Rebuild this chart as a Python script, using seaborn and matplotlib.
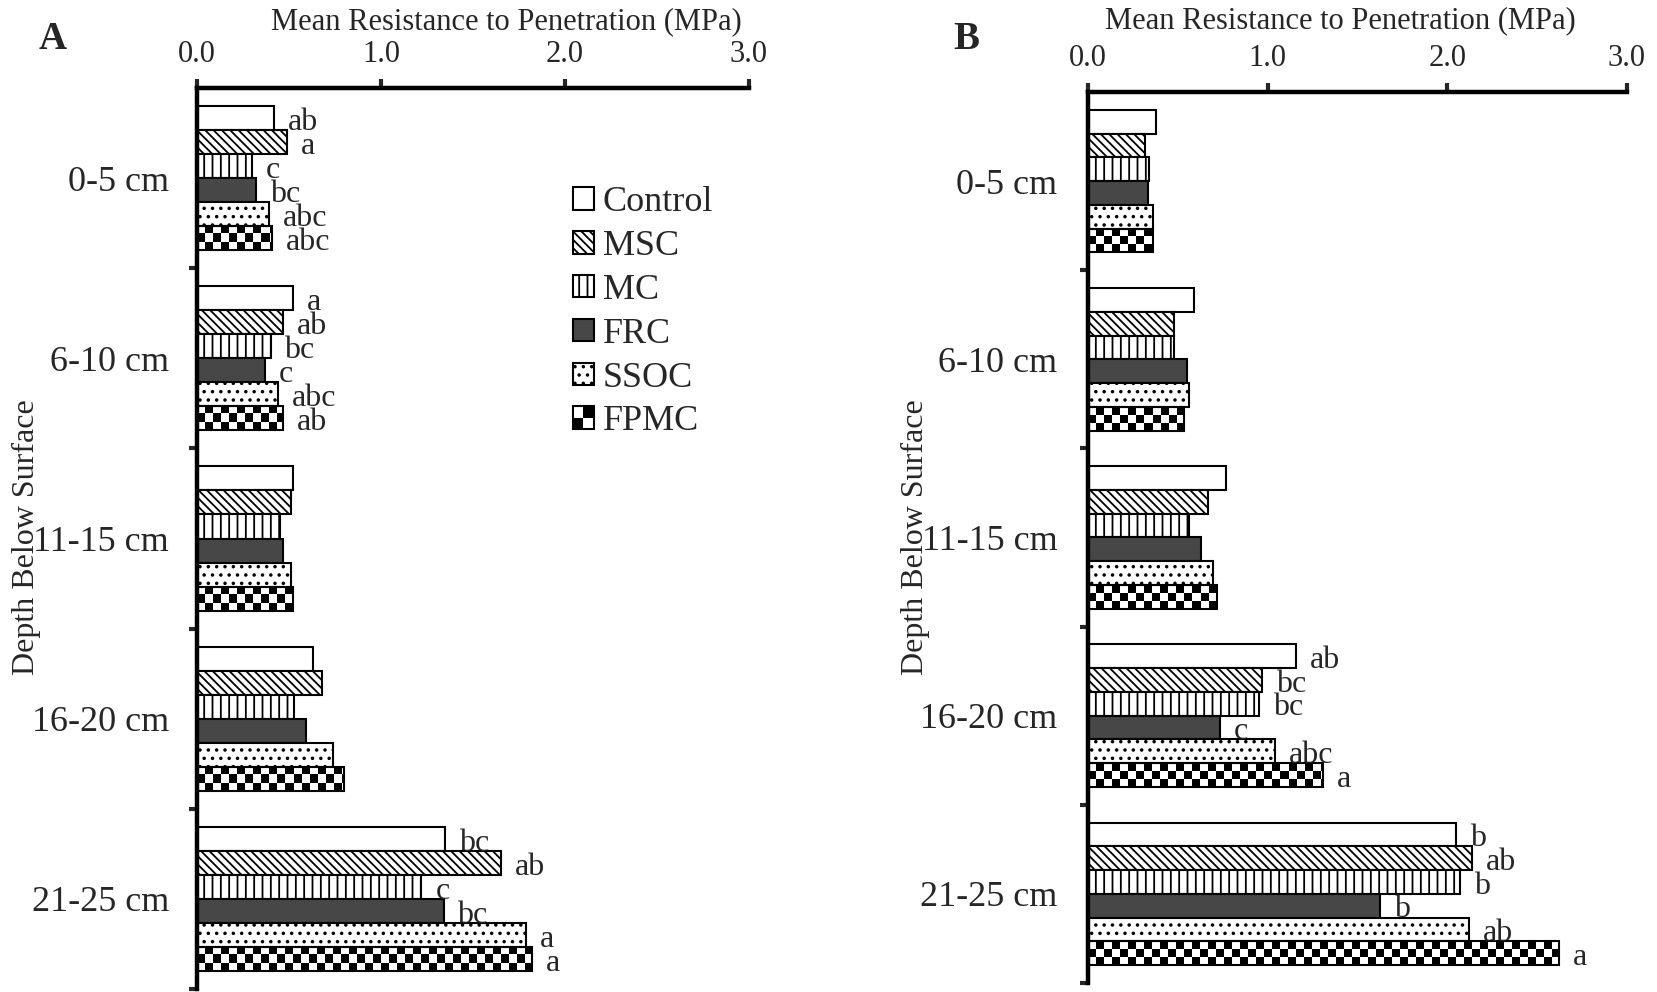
import numpy as np
import pandas as pd
import matplotlib
matplotlib.use('Agg')
import matplotlib.pyplot as plt
import matplotlib.patches as mpatches
from matplotlib.legend_handler import HandlerPatch
import seaborn as sns

depths = ['0-5 cm', '6-10 cm', '11-15 cm', '16-20 cm', '21-25 cm']
treatments = ['Control', 'MSC', 'MC', 'FRC', 'SSOC', 'FPMC']

# panel A values (MPa), one list per treatment, depth order
a_control = [0.42, 0.52, 0.52, 0.63, 1.35]
a_msc = [0.49, 0.47, 0.51, 0.68, 1.65]
a_mc = [0.30, 0.40, 0.45, 0.53, 1.22]
a_frc = [0.32, 0.37, 0.47, 0.59, 1.34]
a_ssoc = [0.39, 0.44, 0.51, 0.74, 1.79]
a_fpmc = [0.41, 0.47, 0.52, 0.80, 1.82]

a_control_lt = ['ab', 'a', '', '', 'bc']
a_msc_lt = ['a', 'ab', '', '', 'ab']
a_mc_lt = ['c', 'bc', '', '', 'c']
a_frc_lt = ['bc', 'c', '', '', 'bc']
a_ssoc_lt = ['abc', 'abc', '', '', 'a']
a_fpmc_lt = ['abc', 'ab', '', '', 'a']

# panel B values (MPa)
b_control = [0.38, 0.59, 0.77, 1.16, 2.05]
b_msc = [0.32, 0.48, 0.67, 0.97, 2.14]
b_mc = [0.34, 0.48, 0.56, 0.95, 2.07]
b_frc = [0.335, 0.55, 0.63, 0.735, 1.625]
b_ssoc = [0.36, 0.56, 0.695, 1.04, 2.12]
b_fpmc = [0.36, 0.535, 0.72, 1.31, 2.62]

b_control_lt = ['', '', '', 'ab', 'b']
b_msc_lt = ['', '', '', 'bc', 'ab']
b_mc_lt = ['', '', '', 'bc', 'b']
b_frc_lt = ['', '', '', 'c', 'b']
b_ssoc_lt = ['', '', '', 'abc', 'ab']
b_fpmc_lt = ['', '', '', 'a', 'a']

xticks = [0.0, 1.0, 2.0, 3.0]
xtick_labels = ['0.0', '1.0', '2.0', '3.0']

# styling per treatment
faces = ['white', 'white', 'white', '#474747', 'white', 'none']
hatches = [None, '\\\\\\\\', '||', None, '..', None]


def make_df(vals, lts):
    rows = []
    for t, v, l in zip(treatments, vals, lts):
        for d, x, s in zip(depths, v, l):
            rows.append({'Depth': d, 'Treatment': t, 'MPa': x, 'Letter': s})
    return pd.DataFrame(rows)


df_a = make_df([a_control, a_msc, a_mc, a_frc, a_ssoc, a_fpmc],
               [a_control_lt, a_msc_lt, a_mc_lt, a_frc_lt, a_ssoc_lt, a_fpmc_lt])
df_b = make_df([b_control, b_msc, b_mc, b_frc, b_ssoc, b_fpmc],
               [b_control_lt, b_msc_lt, b_mc_lt, b_frc_lt, b_ssoc_lt, b_fpmc_lt])

sns.set_style('white')
plt.rcParams['font.family'] = ['Liberation Serif', 'DejaVu Serif']
plt.rcParams['hatch.linewidth'] = 1.3
plt.rcParams['hatch.color'] = 'black'


def checker_fill(ax, bar, cell_px=8):
    # black/white checkerboard clipped to the bar
    (x0, y0), (x1, y1) = ax.transData.transform(
        [(bar.get_x(), bar.get_y()),
         (bar.get_x() + bar.get_width(), bar.get_y() + bar.get_height())])
    w_px, h_px = abs(x1 - x0), abs(y1 - y0)
    nx = int(np.ceil(w_px / cell_px))
    ny = max(1, int(round(h_px / cell_px)))
    board = np.indices((ny, nx)).sum(axis=0) % 2
    right = bar.get_x() + nx * cell_px * bar.get_width() / w_px
    im = ax.imshow(board, cmap='gray_r', interpolation='nearest', aspect='auto',
                   extent=(bar.get_x(), right, bar.get_y() + bar.get_height(), bar.get_y()),
                   zorder=0.5)
    im.set_clip_path(bar)


def draw_panel(ax, df, ylab_pad, xlab_xy):
    sns.barplot(data=df, y='Depth', x='MPa', hue='Treatment', orient='h',
                order=depths, hue_order=treatments, width=0.8,
                palette=['white'] * 6, edgecolor='black', linewidth=1.5,
                saturation=1, legend=False, ax=ax)
    ax.set_xlim(0, 3)
    ax.set_ylim(len(depths) - 0.5, -0.5)
    ax.set_autoscale_on(False)

    for i, cont in enumerate(ax.containers):
        t = treatments[i]
        sub = df[df['Treatment'] == t].set_index('Depth')
        for j, bar in enumerate(cont):
            bar.set_facecolor(faces[i])
            bar.set_edgecolor('black')
            bar.set_zorder(2)
            if hatches[i]:
                bar.set_hatch(hatches[i])
            if t == 'FPMC':
                checker_fill(ax, bar)
            lt = sub.loc[depths[j], 'Letter']
            if lt:
                ax.annotate(lt, (bar.get_width(), bar.get_y() + bar.get_height() / 2),
                            xytext=(10, -3), textcoords='offset points',
                            ha='left', va='center', fontsize=23)

    ax.xaxis.tick_top()
    ax.xaxis.set_label_position('top')
    ax.set_xticks(xticks, xtick_labels, fontsize=22)
    ax.tick_params(axis='x', which='major', direction='out', length=6.5, width=3,
                   pad=7, top=True, bottom=False)
    ax.set_xlabel('Mean Resistance to Penetration (MPa)', fontsize=22)
    ax.xaxis.label.set_va('center')
    ax.xaxis.set_label_coords(*xlab_xy)

    ax.set_yticks(range(len(depths)), depths, fontsize=26)
    ax.set_yticks(np.arange(len(depths)) + 0.5, minor=True)
    ax.tick_params(axis='y', which='major', length=0, pad=ylab_pad)
    ax.tick_params(axis='y', which='minor', direction='out', length=6, width=3, left=True)
    ax.set_ylabel('')

    for s in ['right', 'bottom']:
        ax.spines[s].set_visible(False)
    for s in ['top', 'left']:
        ax.spines[s].set_linewidth(3.2)
        ax.spines[s].set_color('black')
        ax.spines[s].set_zorder(5)


class CheckerHandler(HandlerPatch):
    def create_artists(self, legend, orig_handle, xdescent, ydescent,
                       width, height, fontsize, trans):
        x0, y0 = -xdescent, -ydescent
        hw, hh = width / 2, height / 2
        base = mpatches.Rectangle((x0, y0), width, height, facecolor='white',
                                  edgecolor='none', transform=trans)
        tr = mpatches.Rectangle((x0 + hw, y0 + hh), hw, hh, facecolor='black',
                                edgecolor='none', transform=trans)
        bl = mpatches.Rectangle((x0, y0), hw, hh, facecolor='black',
                                edgecolor='none', transform=trans)
        frame = mpatches.Rectangle((x0, y0), width, height, facecolor='none',
                                   edgecolor='black', lw=1.5, transform=trans)
        return [base, tr, bl, frame]


fig = plt.figure(figsize=(16.58, 9.92), dpi=100)
ax_a = fig.add_axes([0.1188, 0.003, 0.3329, 0.9083])
ax_b = fig.add_axes([0.6562, 0.0091, 0.3251, 0.8982])

draw_panel(ax_a, df_a, 20, (0.56, 1.074))
draw_panel(ax_b, df_b, 22, (0.4675, 1.08))

# legend in panel A
handles = []
for i, t in enumerate(treatments):
    fc = 'white' if faces[i] == 'none' else faces[i]
    handles.append(mpatches.Patch(facecolor=fc, edgecolor='black', linewidth=1.5,
                                  hatch=hatches[i], label=t))
ax_a.legend(handles=handles, loc='upper left', bbox_to_anchor=(0.681, 0.891),
            frameon=False, fontsize=26, handlelength=0.58, handleheight=0.58,
            handletextpad=0.25, labelspacing=0.3, borderpad=0, borderaxespad=0,
            handler_map={handles[-1]: CheckerHandler()})

fig.text(0.0159, 0.4587, 'Depth Below Surface', rotation=90, fontsize=23,
         ha='center', va='center')
fig.text(0.5519, 0.4587, 'Depth Below Surface', rotation=90, fontsize=23,
         ha='center', va='center')
fig.text(0.032, 0.96, 'A', fontsize=28, fontweight='bold', ha='center', va='center')
fig.text(0.5827, 0.96, 'B', fontsize=28, fontweight='bold', ha='center', va='center')

fig.savefig('out.png', dpi=100)
